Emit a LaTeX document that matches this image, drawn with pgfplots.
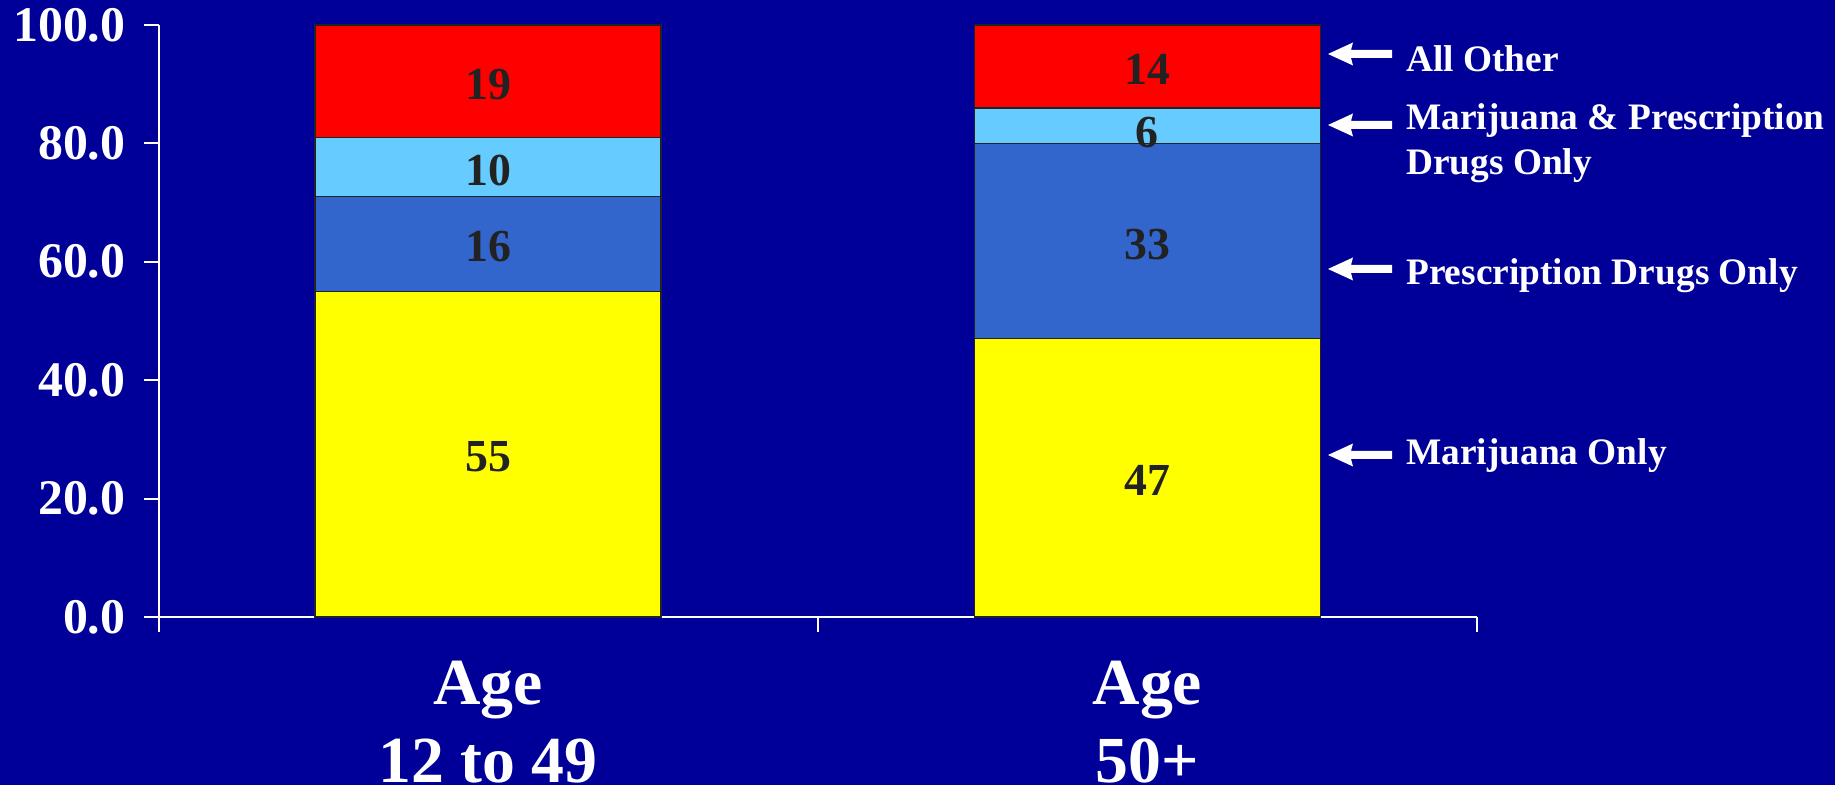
\documentclass[border=0pt]{standalone}
\usepackage{fontspec}
\setmainfont{Liberation Serif}
\usepackage{pgfplots}
\pgfplotsset{compat=1.18}
\definecolor{bgblue}{HTML}{000099}
\definecolor{cRed}{HTML}{FF0000}
\definecolor{cLight}{HTML}{66CCFF}
\definecolor{cBlue}{HTML}{3366CC}
\definecolor{cYellow}{HTML}{FFFF00}
\definecolor{lbl}{HTML}{222222}
\newcommand{\leftarrowat}[1]{\fill[white] (1328,#1) -- (1353,#1+11.5) -- (1351,#1+4) -- (1392,#1+4) -- (1392,#1-4) -- (1351,#1-4) -- (1353,#1-11.5) -- cycle;}
\tikzset{vl/.style={font=\fontsize{46}{50}\selectfont\bfseries, text=lbl, yshift=-3bp},
  rl/.style={font=\fontsize{37.5}{45}\selectfont\bfseries, text=white, inner sep=0pt, anchor=base west}}
\begin{document}
\begin{tikzpicture}[x=1bp,y=1bp]
\fill[bgblue] (0,0) rectangle (1835,785);
\useasboundingbox (0,0) rectangle (1835,785);
\begin{axis}[
  at={(158.5bp,168bp)}, anchor=south west,
  scale only axis, width=1318.5bp, height=592bp,
  xmin=-0.5, xmax=1.5, ymin=0, ymax=100,
  ybar stacked, bar width=0.525,
  axis lines*=left,
  axis line style={white, line width=2bp},
  xtick={-0.5,0.5,1.5}, xticklabels={,,},
  extra x ticks={0,1},
  extra x tick labels={{Age\\12 to 49},{Age\\50+}},
  extra x tick style={major tick length=0pt,
    tick label style={font=\fontsize{66}{78}\selectfont\bfseries, text=white, align=center, anchor=north, inner sep=0pt, yshift=-44bp}},
  ytick={0,20,40,60,80,100},
  tick align=outside, major tick length=15bp,
  tick style={white, line width=2bp},
  yticklabel style={font=\fontsize{50}{55}\selectfont\bfseries, text=white, inner sep=0pt, xshift=-18bp},
  y tick label style={/pgf/number format/fixed, /pgf/number format/fixed zerofill, /pgf/number format/precision=1, /pgf/number format/assume math mode=true},
  clip=false,
  after end axis/.append code={
    \node[vl] at (axis cs:0,27.5) {55};
    \node[vl] at (axis cs:0,63) {16};
    \node[vl] at (axis cs:0,76) {10};
    \node[vl] at (axis cs:0,90.5) {19};
    \node[vl] at (axis cs:1,23.5) {47};
    \node[vl] at (axis cs:1,63.5) {33};
    \node[vl] at (axis cs:1,82.3) {6};
    \node[vl] at (axis cs:1,93) {14};
  },
]
\addplot[fill=cYellow, draw=lbl, line width=1.5bp] coordinates {(0,55) (1,47)};
\addplot[fill=cBlue, draw=lbl, line width=1.5bp] coordinates {(0,16) (1,33)};
\addplot[fill=cLight, draw=lbl, line width=1.5bp] coordinates {(0,10) (1,6)};
\addplot[fill=cRed, draw=lbl, line width=1.5bp] coordinates {(0,19) (1,14)};
\end{axis}
\leftarrowat{731}
\leftarrowat{660}
\leftarrowat{516}
\leftarrowat{330}
\node[rl] at (1406,713) {All Other};
\node[rl] at (1406,655) {Marijuana \& Prescription};
\node[rl] at (1406,610) {Drugs Only};
\node[rl] at (1406,500) {Prescription Drugs Only};
\node[rl] at (1406,320) {Marijuana Only};
\end{tikzpicture}
\end{document}
